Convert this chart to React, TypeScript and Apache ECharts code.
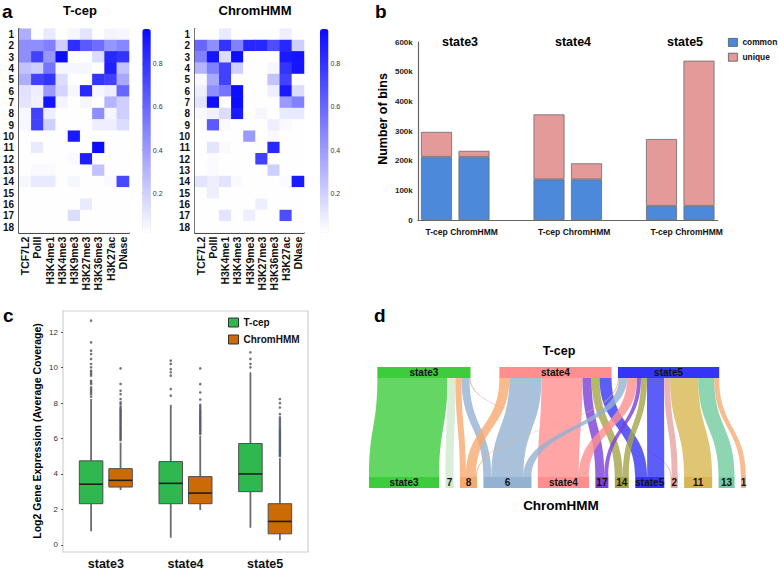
import React, { useEffect, useRef } from 'react';
import * as echarts from 'echarts';

const FONT = '"Liberation Sans", Arial, Helvetica, sans-serif';

// ---------- panel a ----------
const marks = ['TCF7L2', 'PolII', 'H3K4me1', 'H3K4me3', 'H3K9me3', 'H3K27me3', 'H3K36me3', 'H3K27ac', 'DNase'];
const stateIds = ['1', '2', '3', '4', '5', '6', '7', '8', '9', '10', '11', '12', '13', '14', '15', '16', '17', '18'];
const tcepMatrix = [
  [0.33, 0.02, 0.10, 0.02, 0.05, 0.12, 0.02, 0.06, 0.05],
  [0.45, 0.45, 0.50, 0.20, 0.82, 0.65, 0.58, 0.42, 0.48],
  [0.45, 0.75, 0.42, 0.95, 0.02, 0.02, 0.15, 0.85, 0.80],
  [0.25, 0.20, 0.55, 0.05, 0.05, 0.05, 0.02, 0.88, 0.25],
  [0.33, 0.75, 0.80, 0.15, 0.02, 0.02, 0.80, 0.75, 0.35],
  [0.13, 0.08, 0.40, 0.18, 0.05, 0.85, 0.05, 0.08, 0.60],
  [0.12, 0.07, 0.92, 0.06, 0.02, 0.05, 0.02, 0.30, 0.20],
  [0.05, 0.75, 0.08, 0.02, 0.02, 0.02, 0.45, 0.05, 0.20],
  [0.05, 0.75, 0.20, 0.02, 0.02, 0.02, 0.08, 0.08, 0.15],
  [0.02, 0.02, 0.02, 0.02, 0.90, 0.02, 0.02, 0.02, 0.02],
  [0.02, 0.10, 0.02, 0.02, 0.02, 0.02, 0.95, 0.02, 0.02],
  [0.02, 0.02, 0.02, 0.02, 0.04, 0.88, 0.02, 0.02, 0.02],
  [0.02, 0.04, 0.04, 0.02, 0.02, 0.02, 0.25, 0.02, 0.02],
  [0.05, 0.10, 0.10, 0.02, 0.05, 0.02, 0.02, 0.04, 0.72],
  [0.02, 0.02, 0.02, 0.02, 0.02, 0.02, 0.02, 0.02, 0.02],
  [0.02, 0.02, 0.02, 0.02, 0.02, 0.10, 0.02, 0.02, 0.02],
  [0.02, 0.02, 0.02, 0.02, 0.15, 0.02, 0.02, 0.02, 0.02],
  [0.02, 0.02, 0.02, 0.02, 0.02, 0.02, 0.02, 0.02, 0.02],
];
const chromMatrix = [
  [0.02, 0.02, 0.10, 0.02, 0.02, 0.02, 0.02, 0.08, 0.02],
  [0.60, 0.45, 0.80, 0.50, 0.85, 0.85, 0.70, 0.85, 0.20],
  [0.50, 0.92, 0.15, 0.95, 0.02, 0.02, 0.02, 0.90, 0.92],
  [0.30, 0.50, 0.75, 0.20, 0.02, 0.02, 0.05, 0.80, 0.92],
  [0.04, 0.35, 0.75, 0.02, 0.02, 0.02, 0.25, 0.75, 0.02],
  [0.08, 0.45, 0.55, 0.95, 0.02, 0.02, 0.08, 0.90, 0.15],
  [0.12, 0.95, 0.02, 0.95, 0.02, 0.02, 0.02, 0.40, 0.50],
  [0.04, 0.07, 0.15, 0.90, 0.02, 0.05, 0.02, 0.10, 0.10],
  [0.02, 0.65, 0.04, 0.02, 0.02, 0.02, 0.08, 0.04, 0.02],
  [0.02, 0.02, 0.02, 0.02, 0.40, 0.02, 0.04, 0.02, 0.02],
  [0.02, 0.12, 0.04, 0.02, 0.02, 0.02, 0.85, 0.02, 0.02],
  [0.02, 0.03, 0.02, 0.02, 0.02, 0.75, 0.02, 0.02, 0.02],
  [0.02, 0.03, 0.02, 0.02, 0.02, 0.02, 0.20, 0.02, 0.02],
  [0.12, 0.08, 0.12, 0.04, 0.02, 0.02, 0.02, 0.03, 0.90],
  [0.02, 0.08, 0.02, 0.02, 0.02, 0.02, 0.02, 0.02, 0.02],
  [0.02, 0.02, 0.02, 0.02, 0.02, 0.08, 0.02, 0.02, 0.02],
  [0.02, 0.02, 0.12, 0.02, 0.08, 0.02, 0.02, 0.70, 0.02],
  [0.02, 0.02, 0.02, 0.02, 0.02, 0.02, 0.02, 0.02, 0.02],
];
const colorbarTicks = [0.2, 0.4, 0.6, 0.8];
const colorMin = 0.016;
const colorMax = 0.96;

// ---------- panel b ----------
const bGroups = ['state3', 'state4', 'state5'];
const bMethods = ['T-cep', 'ChromHMM'];
const commonBins = [[213000, 213000], [137000, 137000], [48000, 48000]];
const uniqueBins = [[84000, 20000], [219000, 54000], [225000, 489000]];

// ---------- panel c ----------
const boxCategories = ['state3', 'state4', 'state5'];
// [low, Q1, median, Q3, high]
const tcepBox = [
  [0.77, 2.32, 3.42, 4.74, 8.23],
  [0.40, 2.32, 3.47, 4.70, 7.90],
  [0.96, 3.00, 4.00, 5.72, 9.74],
];
const chromBox = [
  [3.09, 3.26, 3.64, 4.30, 5.77],
  [1.96, 2.32, 2.92, 3.85, 6.15],
  [0.26, 0.62, 1.32, 2.32, 4.89],
];
const tcepOutliers = [
  [8.36, 8.51, 8.6, 8.7, 8.79, 8.89, 9.08, 9.17, 9.26, 9.55, 9.64, 9.74, 9.83, 10.02, 10.21, 10.49, 10.77, 10.96, 11.43, 12.66],
  [8.42, 8.79, 9.55, 9.74, 9.92, 10.21, 10.4],
  [10.02, 10.21, 10.49, 10.87],
];
const chromOutliers = [
  [5.9, 5.97, 6.05, 6.12, 6.2, 6.27, 6.35, 6.42, 6.5, 6.57, 6.65, 6.72, 6.8, 6.87, 6.95, 7.02, 7.1, 7.17, 7.25, 7.32, 7.4, 7.47, 7.55, 7.62, 7.7, 7.8, 7.94, 8.04, 8.23, 8.51, 8.7, 9.08, 9.96],
  [6.25, 6.32, 6.4, 6.47, 6.55, 6.62, 6.7, 6.77, 6.85, 6.92, 7.0, 7.07, 7.15, 7.22, 7.3, 7.37, 7.45, 7.52, 7.6, 7.7, 7.8, 7.9, 8.2, 8.6, 9.07, 9.96],
  [5.0, 5.07, 5.15, 5.22, 5.3, 5.37, 5.45, 5.52, 5.6, 5.67, 5.75, 5.82, 5.9, 5.97, 6.05, 6.12, 6.2, 6.27, 6.35, 6.42, 6.5, 6.6, 6.7, 6.8, 6.9, 7.0, 7.1, 7.2, 7.38, 7.75, 8.0, 8.23],
];
const yTicksC = [0, 2, 4, 6, 8, 10, 12];

// ---------- panel d ----------
const tcepNodes = ['state3', 'state4', 'state5'];
const chromNodes = ['state3', '7', '8', '6', 'state4', '17', '14', 'state5', '2', '11', '13', '1'];
const tcepNodeColors = ['#3ccc3c', '#ff8e8e', '#3434f6'];
const chromNodeColors = ['#3ccc3c', '#cfe9cf', '#f7a96f', '#93b2d2', '#ff8e8e', '#7a3fd9', '#a5a448', '#3434f6', '#e6a3a3', '#d8b651', '#72cc9f', '#f8aa74'];
const flowSource = ['state3', 'state3', 'state3', 'state3', 'state3',
  'state4', 'state4', 'state4', 'state4', 'state4', 'state4',
  'state5', 'state5', 'state5', 'state5', 'state5', 'state5', 'state5', 'state5', 'state5', 'state5'];
const flowTarget = ['state3', '7', '8', '6', '2',
  '8', '6', 'state4', '17', '14', 'state5',
  '8', '6', 'state4', '17', '14', 'state5', '2', '11', '13', '1'];
const flowValue = [70, 8, 6, 8, 1,
  10, 32, 41, 9, 8, 12,
  1, 8, 10, 4, 6, 17, 6, 28, 16, 5];

const GREEN = '#2fb84f';
const ORANGE = '#cc6a06';

function boxRenderer(offsetFrac: number, color: string) {
  return (params: any, api: any) => {
    const cat = api.value(0);
    const pLow = api.coord([cat, api.value(1)]);
    const pQ1 = api.coord([cat, api.value(2)]);
    const pMed = api.coord([cat, api.value(3)]);
    const pQ3 = api.coord([cat, api.value(4)]);
    const pHigh = api.coord([cat, api.value(5)]);
    const band = api.size([1, 0])[0];
    const x = pLow[0] + band * offsetFrac;
    const w = band * 0.295;
    const whisker = { stroke: '#6b6b6b', lineWidth: 1.8 };
    return {
      type: 'group',
      children: [
        { type: 'line', shape: { x1: x, y1: pLow[1], x2: x, y2: pQ1[1] }, style: whisker },
        { type: 'line', shape: { x1: x, y1: pQ3[1], x2: x, y2: pHigh[1] }, style: whisker },
        { type: 'rect', shape: { x: x - w / 2, y: pQ3[1], width: w, height: pQ1[1] - pQ3[1] }, style: { fill: color, stroke: '#4f4f4f', lineWidth: 1 } },
        { type: 'line', shape: { x1: x - w / 2, y1: pMed[1], x2: x + w / 2, y2: pMed[1] }, style: { stroke: '#1e1e1e', lineWidth: 1.6 } },
      ],
    };
  };
}

function heatData(m: number[][]) {
  const out: number[][] = [];
  m.forEach((row, r) => row.forEach((v, c) => out.push([c, r, v])));
  return out;
}

function txt(text: string, x: number, y: number, size: number, align = 'center', rotation = 0) {
  return {
    type: 'text',
    x,
    y,
    rotation,
    style: {
      text,
      fill: '#000',
      font: `bold ${size}px ${FONT}`,
      align,
      verticalAlign: 'middle',
      textAlign: align,
      textVerticalAlign: 'middle',
    },
  };
}

export default function App() {
  const ref = useRef<HTMLDivElement>(null);
  useEffect(() => {
    if (!ref.current) return;
    const chart = echarts.init(ref.current, undefined, { renderer: 'svg' });

    const heatX = (gridIndex: number) => ({
      type: 'category', gridIndex, data: marks, position: 'bottom',
      axisLine: { show: true, lineStyle: { color: '#111', width: 1.5 } },
      axisTick: { show: false }, splitArea: { show: false },
      axisLabel: { rotate: 90, interval: 0, fontSize: 10.5, fontWeight: 'bold', color: '#111', margin: 4 },
    });
    const heatY = (gridIndex: number) => ({
      type: 'category', gridIndex, data: stateIds, inverse: true,
      axisLine: { show: true, lineStyle: { color: '#111', width: 1.5 } },
      axisTick: { show: false }, splitArea: { show: false },
      axisLabel: { interval: 0, fontSize: 10, fontWeight: 'bold', color: '#111', margin: 5 },
    });
    const cbX = (gridIndex: number) => ({ type: 'value', gridIndex, show: false, min: 0, max: 1 });
    const cbY = (gridIndex: number) => ({
      type: 'value', gridIndex, min: colorMin, max: colorMax, position: 'right',
      axisLine: { show: false }, splitLine: { show: false },
      axisTick: { show: true, length: 2, customValues: colorbarTicks, lineStyle: { color: '#2a2aff', width: 1.5 } },
      axisLabel: { customValues: colorbarTicks, fontSize: 7, color: '#333', margin: 2, formatter: (v: number) => v.toFixed(1) },
    });

    const bCats: string[] = [];
    const bCommon: any[] = [];
    const bUnique: any[] = [];
    bGroups.forEach((g, gi) => {
      if (gi > 0) { bCats.push(''); bCommon.push('-'); bUnique.push('-'); }
      bMethods.forEach((m, mi) => {
        bCats.push(m);
        bCommon.push(commonBins[gi][mi]);
        bUnique.push(uniqueBins[gi][mi]);
      });
    });

    const nodes = [
      ...tcepNodes.map((n, i) => ({ name: 'T:' + n, itemStyle: { color: tcepNodeColors[i] } })),
      ...chromNodes.map((n, i) => ({ name: 'C:' + n, itemStyle: { color: chromNodeColors[i] } })),
    ];
    const links = flowSource.map((s, i) => ({
      source: 'T:' + s,
      target: 'C:' + flowTarget[i],
      value: flowValue[i],
      lineStyle: { color: chromNodeColors[chromNodes.indexOf(flowTarget[i])], opacity: 0.8, curveness: 0.5 },
    }));

    const option: any = {
      animation: false,
      textStyle: { fontFamily: FONT },
      grid: [
        { left: 19, top: 28.7, width: 110, height: 204 },
        { left: 195, top: 28.7, width: 109, height: 204 },
        { left: 142.3, top: 29, width: 8.5, height: 204 },
        { left: 320, top: 29, width: 8.5, height: 204 },
        { left: 417.75, top: 42, width: 300, height: 178 },
        { left: 66, top: 311, width: 239, height: 241 },
      ],
      xAxis: [
        heatX(0), heatX(1), cbX(2), cbX(3),
        {
          type: 'category', gridIndex: 4, data: bCats,
          axisLine: { show: true, lineStyle: { color: '#666', width: 1.2 } },
          axisTick: { show: false },
          axisLabel: { interval: 0, fontSize: 8.5, fontWeight: 'bold', color: '#111', margin: 7 },
        },
        {
          type: 'category', gridIndex: 5, data: boxCategories,
          axisLine: { show: false },
          axisTick: { show: false },
          axisLabel: { fontSize: 12.5, fontWeight: 'bold', color: '#111', margin: 6 },
        },
      ],
      yAxis: [
        heatY(0), heatY(1), cbY(2), cbY(3),
        {
          type: 'value', gridIndex: 4, min: 0, max: 600000, interval: 100000,
          axisLine: { show: true, lineStyle: { color: '#666', width: 1.2 } },
          axisTick: { show: false }, splitLine: { show: false },
          axisLabel: { fontSize: 8, fontWeight: 'bold', color: '#222', margin: 5, formatter: (v: number) => (v === 0 ? '0' : v / 1000 + 'k') },
        },
        {
          type: 'value', gridIndex: 5, min: -0.35, max: 13.2, offset: 3,
          axisLine: { show: false }, splitLine: { show: false },
          axisTick: { show: true, length: 2, customValues: yTicksC, lineStyle: { color: '#555' } },
          axisLabel: { customValues: yTicksC, fontSize: 8, color: '#333', margin: 5 },
          name: 'Log2 Gene Expression (Average Coverage)', nameLocation: 'middle', nameGap: 21,
          nameTextStyle: { fontSize: 10.5, fontWeight: 'bold', color: '#000' },
        },
      ],
      visualMap: [
        {
          type: 'continuous', seriesIndex: 0, min: colorMin, max: colorMax, calculable: false,
          left: 142.3, top: 29, itemWidth: 8.5, itemHeight: 204, padding: 0,
          inRange: { color: ['#ffffff', '#0a0aff'] }, hoverLink: false,
        },
        {
          type: 'continuous', seriesIndex: 1, min: colorMin, max: colorMax, calculable: false,
          left: 320, top: 29, itemWidth: 8.5, itemHeight: 204, padding: 0,
          inRange: { color: ['#ffffff', '#0a0aff'] }, hoverLink: false,
        },
      ],
      legend: [
        {
          data: ['common', 'unique'], orient: 'vertical', left: 728, top: 38, padding: 0,
          itemWidth: 9, itemHeight: 8, itemGap: 6, icon: 'rect',
          textStyle: { fontSize: 8.4, fontWeight: 'bold', color: '#111' },
          itemStyle: { borderColor: '#555', borderWidth: 0.8 },
        },
        {
          data: ['T-cep', 'ChromHMM'], orient: 'vertical', left: 228, top: 317.5, padding: 0,
          itemWidth: 10, itemHeight: 9, itemGap: 7, icon: 'rect',
          textStyle: { fontSize: 10, fontWeight: 'bold', color: '#111' },
          itemStyle: { borderColor: '#333', borderWidth: 1 },
        },
      ],
      series: [
        { type: 'heatmap', xAxisIndex: 0, yAxisIndex: 0, data: heatData(tcepMatrix), emphasis: { disabled: true } },
        { type: 'heatmap', xAxisIndex: 1, yAxisIndex: 1, data: heatData(chromMatrix), emphasis: { disabled: true } },
        {
          name: 'common', type: 'bar', xAxisIndex: 4, yAxisIndex: 4, stack: 'bins', barWidth: 31,
          data: bCommon, itemStyle: { color: '#4d89da', borderColor: '#6a6a6a', borderWidth: 0.8 },
        },
        {
          name: 'unique', type: 'bar', xAxisIndex: 4, yAxisIndex: 4, stack: 'bins', barWidth: 31,
          data: bUnique, itemStyle: { color: '#e59a9a', borderColor: '#6a6a6a', borderWidth: 0.8 },
        },
        {
          name: 'T-cep', type: 'custom', xAxisIndex: 5, yAxisIndex: 5,
          renderItem: boxRenderer(-0.185, GREEN),
          encode: { x: 0, y: [1, 2, 3, 4, 5] },
          itemStyle: { color: GREEN },
          data: tcepBox.map((b, i) => [i, ...b]),
        },
        {
          name: 'ChromHMM', type: 'custom', xAxisIndex: 5, yAxisIndex: 5,
          renderItem: boxRenderer(0.185, ORANGE),
          encode: { x: 0, y: [1, 2, 3, 4, 5] },
          itemStyle: { color: ORANGE },
          data: chromBox.map((b, i) => [i, ...b]),
        },
        {
          name: 'T-cep outliers', type: 'scatter', xAxisIndex: 5, yAxisIndex: 5,
          symbolSize: 2.6, symbolOffset: [-14.75, 0], itemStyle: { color: '#4a4f62' },
          data: tcepOutliers.flatMap((arr, i) => arr.map((v) => [i, v])),
        },
        {
          name: 'ChromHMM outliers', type: 'scatter', xAxisIndex: 5, yAxisIndex: 5,
          symbolSize: 2.6, symbolOffset: [14.75, 0], itemStyle: { color: '#4a4f62' },
          data: chromOutliers.flatMap((arr, i) => arr.map((v) => [i, v])),
        },
        {
          type: 'sankey', orient: 'vertical', left: 369, top: 367, width: 377, height: 121,
          nodeWidth: 11, nodeGap: 6.4, layoutIterations: 32, draggable: false,
          emphasis: { disabled: true },
          label: {
            position: 'inside', fontSize: 10, fontWeight: 'bold', color: '#111',
            formatter: (p: any) => p.name.split(':')[1],
          },
          itemStyle: { borderWidth: 0 },
          data: nodes,
          links,
        },
      ],
      graphic: [
        {
          type: 'rect', shape: { x: 63, y: 311, width: 245, height: 241 },
          style: { fill: 'none', stroke: '#cfcfd6', lineWidth: 1.2 }, silent: true,
        },
        txt('a', 2, 11, 19, 'left'),
        txt('b', 375, 11, 19, 'left'),
        txt('c', 3, 315, 19, 'left'),
        txt('d', 374, 315, 19, 'left'),
        txt('T-cep', 80, 10, 13),
        txt('ChromHMM', 255, 10, 13),
        txt('state3', 460, 42, 12.5),
        txt('state4', 573, 42, 12.5),
        txt('state5', 685, 42, 12.5),
        txt('Number of bins', 383, 119, 12.5, 'center', Math.PI / 2),
        txt('T-cep', 559, 351, 12.5),
        txt('ChromHMM', 561, 505, 13.5),
      ],
    };
    chart.setOption(option);
    return () => chart.dispose();
  }, []);
  return (
    <div
      ref={ref}
      style={{ position: 'fixed', left: 0, top: 0, width: 778, height: 570, background: '#fff' }}
    />
  );
}
